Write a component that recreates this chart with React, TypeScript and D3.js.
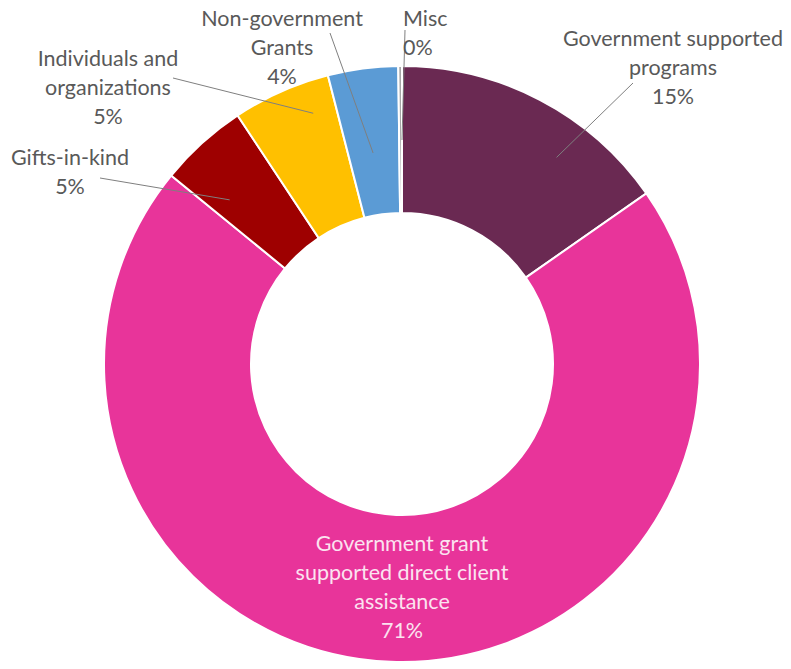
import React, { useEffect, useRef } from 'react';
import * as d3 from 'd3';

// Slice order runs clockwise from 12 o'clock
const categories = [
  'Government supported programs',
  'Government grant supported direct client assistance',
  'Gifts-in-kind',
  'Individuals and organizations',
  'Non-government Grants',
  'Misc',
];
const shares = [15.3, 70.6, 4.8, 5.3, 3.8, 0.2];
const sliceColors = ['#6A2952', '#E8349A', '#9E0000', '#FFC000', '#5B9BD5', '#A5A5A5'];

// label text lines (last line is the percentage, added below)
const labelLines = [
  ['Government supported', 'programs'],
  ['Government grant', 'supported direct client', 'assistance'],
  ['Gifts-in-kind'],
  ['Individuals and', 'organizations'],
  ['Non-government', 'Grants'],
  ['Misc'],
];

// label placement: x, first line y, leader start, leader end (angle deg, radius)
const labelLayout = [
  { x: 673, y: 38, anchor: 'middle', from: [633, 83], angle: 36.8, r: 258, inside: false },
  { x: 402, y: 543, anchor: 'middle', from: null, angle: 0, r: 0, inside: true },
  { x: 70, y: 157, anchor: 'middle', from: [100, 178], angle: 313.6, r: 238, inside: false },
  { x: 108, y: 58, anchor: 'middle', from: [173, 78], angle: 340.5, r: 266, inside: false },
  { x: 282, y: 18, anchor: 'middle', from: [330, 33], angle: 352.2, r: 213, inside: false },
  { x: 403, y: 18, anchor: 'start', from: [405, 30], angle: 0, r: 224, inside: false },
];

const W = 791;
const H = 669;

export default function App() {
  const svgRef = useRef<SVGSVGElement>(null);

  useEffect(() => {
    if (!svgRef.current) return;
    const root = d3.select(svgRef.current);
    root.selectAll('*').remove();

    const cx = 402, cy = 364;
    const outerR = 298, innerR = 151;
    const lineH = 29;

    const data = categories.map((c, i) => ({ name: c, value: shares[i], i }));

    const pie = d3.pie<typeof data[0]>().value(d => d.value).sort(null);
    const arc = d3.arc<d3.PieArcDatum<typeof data[0]>>()
      .innerRadius(innerR)
      .outerRadius(outerR);

    const g = root.append('g').attr('transform', `translate(${cx},${cy})`);

    g.selectAll('path')
      .data(pie(data))
      .enter()
      .append('path')
      .attr('d', arc)
      .attr('fill', d => sliceColors[d.data.i])
      .attr('stroke', '#fff')
      .attr('stroke-width', 2);

    // leader lines
    labelLayout.forEach(l => {
      if (!l.from) return;
      const a = (l.angle * Math.PI) / 180;
      root.append('line')
        .attr('x1', l.from[0])
        .attr('y1', l.from[1])
        .attr('x2', cx + Math.sin(a) * l.r)
        .attr('y2', cy - Math.cos(a) * l.r)
        .attr('stroke', '#7F7F7F')
        .attr('stroke-width', 1);
    });

    // labels
    data.forEach((d, i) => {
      const l = labelLayout[i];
      const lines = [...labelLines[i], `${Math.round(d.value)}%`];
      const t = root.append('text')
        .attr('x', l.x)
        .attr('y', l.y)
        .attr('text-anchor', l.anchor)
        .attr('font-family', 'Lato, "Open Sans", sans-serif')
        .attr('font-size', 21.5)
        .attr('fill', l.inside ? '#FBE3F0' : '#595959');
      lines.forEach((s, k) => {
        t.append('tspan')
          .attr('x', l.x)
          .attr('y', l.y + k * lineH)
          .attr('dominant-baseline', 'central')
          .text(s);
      });
    });
  }, []);

  return (
    <div style={{ position: 'absolute', left: 0, top: 0, background: '#fff' }}>
      <svg ref={svgRef} width={W} height={H}></svg>
    </div>
  );
}
